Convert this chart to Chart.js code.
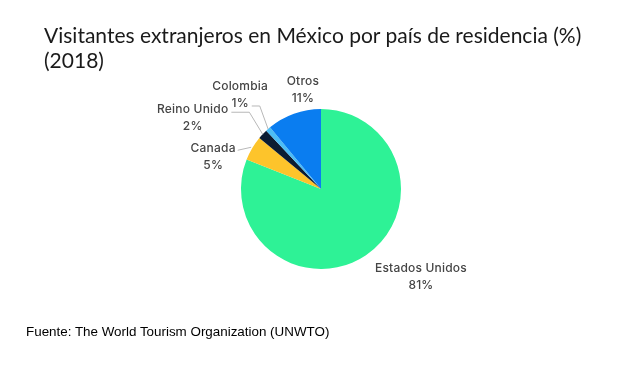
<!DOCTYPE html>
<html><head><meta charset="utf-8">
<script src="https://cdn.jsdelivr.net/npm/chart.js@4/dist/chart.umd.min.js"></script>
<style>
html,body{margin:0;padding:0;background:#fff;}
#wrap{position:relative;width:622px;height:369px;}
#title{position:absolute;left:44px;top:22px;font-family:Lato,sans-serif;font-size:21px;line-height:25px;color:#1a1a1a;white-space:nowrap;}
#foot{position:absolute;left:26px;top:324px;font-family:"Liberation Sans",Arial,sans-serif;font-size:13.4px;color:#000;white-space:nowrap;}
canvas{position:absolute;left:0;top:0;}
</style></head>
<body><div id="wrap"><canvas id="c" width="622" height="369"></canvas>
<div id="title">Visitantes extranjeros en México por país de residencia (%)<br>(2018)</div>
<div id="foot">Fuente: The World Tourism Organization (UNWTO)</div></div>
<script>
const categories = ["Estados Unidos","Canada","Reino Unido","Colombia","Otros"];
const values = [81, 5, 2, 1, 11];
const valueLabels = ["81%","5%","2%","1%","11%"];
const colors = ["#2ef296","#fdc42b","#0b1c33","#4cbdf5","#0a7df0"];
// label placement relative to slice edge point: [dx, dy] of label center (line1), leader?
const labelOffsets = [[55,13,false],[-39,0,true],[-70,-25,true],[-28,-43,true],[9,-32,false]];

const labelPlugin = {
  id:'pieLabels',
  afterDatasetsDraw(chart){
    const ctx = chart.ctx;
    const meta = chart.getDatasetMeta(0);
    ctx.save();
    ctx.font = '500 12px Inter, Lato, sans-serif';
    ctx.letterSpacing = '0.2px';
    ctx.fillStyle = '#454545';
    ctx.textAlign = 'center';
    ctx.textBaseline = 'middle';
    meta.data.forEach((arc,i)=>{
      const p = arc.getProps(['x','y','startAngle','endAngle','outerRadius'],true);
      const mid = (p.startAngle+p.endAngle)/2;
      const ex = p.x + Math.cos(mid)*p.outerRadius;
      const ey = p.y + Math.sin(mid)*p.outerRadius;
      const [dx,dy,leader] = labelOffsets[i];
      const lx = ex+dx, ly = ey+dy;
      if(leader){
        ctx.strokeStyle = '#b8b8b8';
        ctx.lineWidth = 1;
        ctx.beginPath();
        const sx = lx + ctx.measureText(categories[i]).width/2 + 3;
        const sy = ly + 3;
        if (i===1){ ctx.moveTo(lx + ctx.measureText(categories[i]).width/2+2, ly+2); ctx.lineTo(ex-1, ey-1); }
        else if (i===2){ ctx.moveTo(sx, sy); ctx.lineTo(sx+18, sy); ctx.lineTo(ex, ey); }
        else { const vx = lx + ctx.measureText(valueLabels[i]).width/2 + 3; ctx.moveTo(vx, ly+20); ctx.lineTo(vx+8, ly+20); ctx.lineTo(ex, ey); }
        ctx.stroke();
      }
      ctx.fillText(categories[i], lx, ly);
      ctx.fillText(valueLabels[i], lx, ly+17);
    });
    ctx.restore();
  }
};

new Chart(document.getElementById('c'), {
  type:'pie',
  data:{labels:categories,datasets:[{data:values,backgroundColor:colors,borderWidth:0}]},
  options:{
    responsive:false,animation:false,
    layout:{padding:{left:200,right:180,top:109,bottom:100}},
    plugins:{legend:{display:false},tooltip:{enabled:false},title:{display:false}}
  },
  plugins:[labelPlugin]
});
</script></body></html>
